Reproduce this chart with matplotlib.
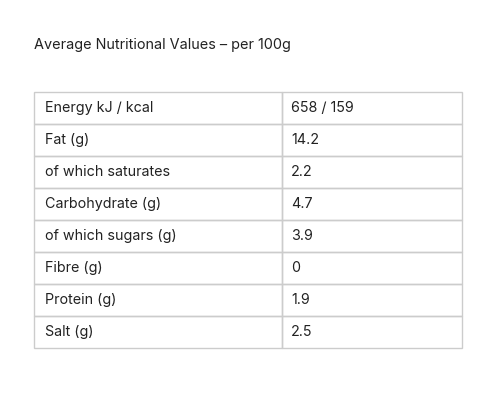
import matplotlib.pyplot as plt
from matplotlib.patches import Rectangle

title = "Average Nutritional Values – per 100g"
nutrients = ["Energy kJ / kcal", "Fat (g)", "of which saturates", "Carbohydrate (g)",
             "of which sugars (g)", "Fibre (g)", "Protein (g)", "Salt (g)"]
values = ["658 / 159", "14.2", "2.2", "4.7", "3.9", "0", "1.9", "2.5"]

plt.rcParams['font.family'] = ['Inter', 'DejaVu Sans']

fig = plt.figure(figsize=(5, 4), dpi=100)
ax = fig.add_axes([0, 0, 1, 1])
ax.set_xlim(0, 500)
ax.set_ylim(400, 0)
ax.axis('off')

txt_col = '#222222'
line_col = '#cccccc'
left, mid, right = 34, 282, 462
top, row_h = 92, 32

ax.text(left, 45, title, fontsize=10.4, color=txt_col, va='center', ha='left')

for i, (name, val) in enumerate(zip(nutrients, values)):
    y0 = top + i * row_h
    ax.add_patch(Rectangle((left, y0), mid - left, row_h, fill=False, ec=line_col, lw=1))
    ax.add_patch(Rectangle((mid, y0), right - mid, row_h, fill=False, ec=line_col, lw=1))
    ax.text(left + 11, y0 + row_h / 2, name, fontsize=10.3, color=txt_col, va='center', ha='left')
    ax.text(mid + 9, y0 + row_h / 2, val, fontsize=10.3, color=txt_col, va='center', ha='left')

fig.savefig('out.png', dpi=100, facecolor='white')
